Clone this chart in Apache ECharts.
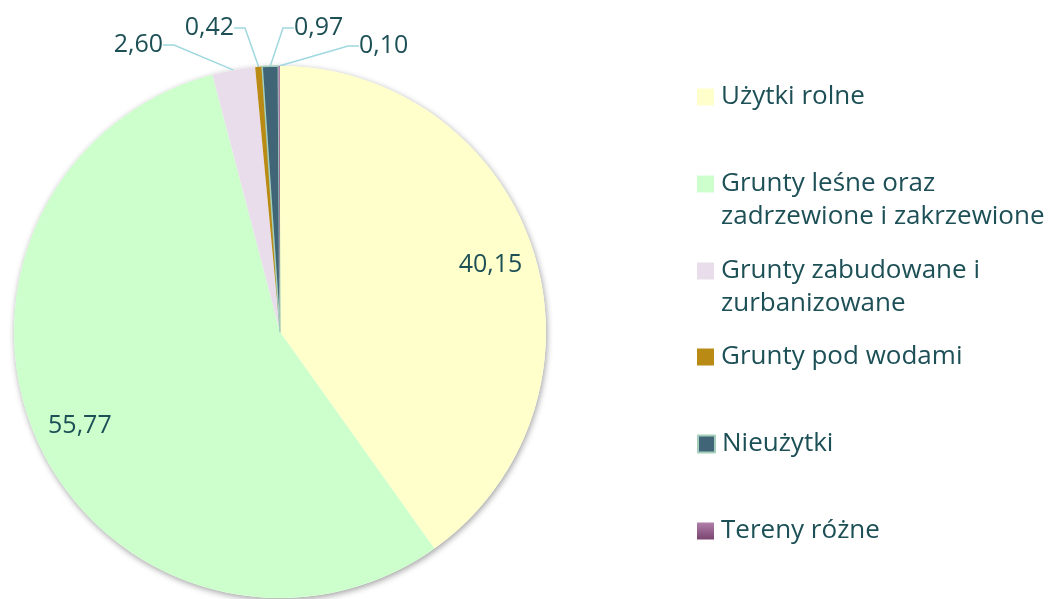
<!DOCTYPE html>
<html>
<head>
<meta charset="utf-8">
<script src="https://cdn.jsdelivr.net/npm/echarts@6/dist/echarts.min.js"></script>
<style>
  html, body { margin: 0; padding: 0; background: #fff; }
  #chart { width: 1059px; height: 599px; }
</style>
</head>
<body>
<div id="chart"></div>
<script>
const categories = [
  'Użytki rolne',
  'Grunty leśne oraz zadrzewione i zakrzewione',
  'Grunty zabudowane i zurbanizowane',
  'Grunty pod wodami',
  'Nieużytki',
  'Tereny różne'
]
const legendLabels = [
  'Użytki rolne',
  'Grunty leśne oraz\nzadrzewione i zakrzewione',
  'Grunty zabudowane i\nzurbanizowane',
  'Grunty pod wodami',
  'Nieużytki',
  'Tereny różne'
]
const shares = [40.15, 55.77, 2.60, 0.42, 0.97, 0.10]

const colors = [
  '#FFFFCC',
  '#CCFFCC',
  '#E9DDEB',
  '#B98A14',
  '#3F6577',
  new echarts.graphic.LinearGradient(0, 0, 0, 1, [
    { offset: 0, color: '#B07FAA' },
    { offset: 1, color: '#7A456F' },
  ]),
]

const TEXT = '#1D5056'
const FONT = '"Open Sans"'
const CENTER = [280, 332]
const R = 266
const fmt = (v) => v.toFixed(2).replace('.', ',')
const bigSlice = (i) => i < 2

// where the small outside labels sit (anchor, alignment)
const outerLabelPos = {
  2: { x: 168, y: 45, align: 'right' },
  3: { x: 239, y: 28, align: 'right' },
  4: { x: 289, y: 28, align: 'left' },
  5: { x: 354, y: 46, align: 'left' },
}

const mainData = shares.map((v, i) => ({
  name: categories[i],
  value: v,
  itemStyle: i === 4
    ? { color: colors[i], borderColor: '#A3CFBC', borderWidth: 1.5 }
    : { color: colors[i] },
  label: { show: !bigSlice(i) },
  labelLine: { show: !bigSlice(i) },
}))

// transparent ring, only used to place the two big labels further out
const ringData = shares.map((v, i) => ({
  name: categories[i],
  value: v,
  label: { show: bigSlice(i) },
}))

const legendTops = [97, 184, 271, 357, 444, 531]
const legends = categories.map((name, i) => {
  const twoLines = legendLabels[i].includes('\n')
  // a blank first line keeps the icon level with the first text line
  const text = twoLines ? '\n' + legendLabels[i] : legendLabels[i]
  return {
    data: [{ name, icon: 'rect' }],
    orient: 'vertical',
    left: 697,
    top: legendTops[i] - (twoLines ? 49.5 : 16.5),
    padding: 0,
    itemWidth: 17,
    itemHeight: 17,
    selectedMode: false,
    formatter: () => text,
    textStyle: {
      color: TEXT,
      fontFamily: FONT,
      fontSize: 26,
      lineHeight: 33,
      padding: [0, 0, 0, 2],
    },
  }
})

const chart = echarts.init(document.getElementById('chart'))
chart.setOption({
  animation: false,
  backgroundColor: '#fff',
  legend: legends,
  series: [
    {
      // full disc underneath, only there to cast the soft drop shadow
      type: 'pie',
      center: CENTER,
      radius: R,
      silent: true,
      z: 1,
      label: { show: false },
      labelLine: { show: false },
      itemStyle: {
        color: '#fff',
        shadowColor: 'rgba(0,0,0,0.38)',
        shadowBlur: 6,
        shadowOffsetX: 1,
        shadowOffsetY: 2,
      },
      data: [{ name: '', value: 1 }],
    },
    {
      type: 'pie',
      center: CENTER,
      radius: R,
      startAngle: 90,
      clockwise: true,
      silent: true,
      z: 2,
      label: {
        position: 'outside',
        color: TEXT,
        fontFamily: FONT,
        fontSize: 25,
        padding: [0, 5],
        formatter: (p) => fmt(p.value),
      },
      labelLine: {
        length: 14,
        length2: 11,
        lineStyle: { color: '#9FD8DF', width: 1.5 },
      },
      labelLayout: (p) => {
        const pos = outerLabelPos[p.dataIndex]
        if (!pos) return {}
        return { x: pos.x, y: pos.y, align: pos.align, verticalAlign: 'middle' }
      },
      data: mainData,
    },
    {
      type: 'pie',
      center: CENTER,
      radius: [170, R],
      startAngle: 90,
      clockwise: true,
      silent: true,
      z: 3,
      itemStyle: { color: 'rgba(0,0,0,0)' },
      label: {
        position: 'inside',
        color: TEXT,
        fontFamily: FONT,
        fontSize: 25,
        formatter: (p) => fmt(p.value),
      },
      labelLine: { show: false },
      data: ringData,
    },
  ],
})
</script>
</body>
</html>
